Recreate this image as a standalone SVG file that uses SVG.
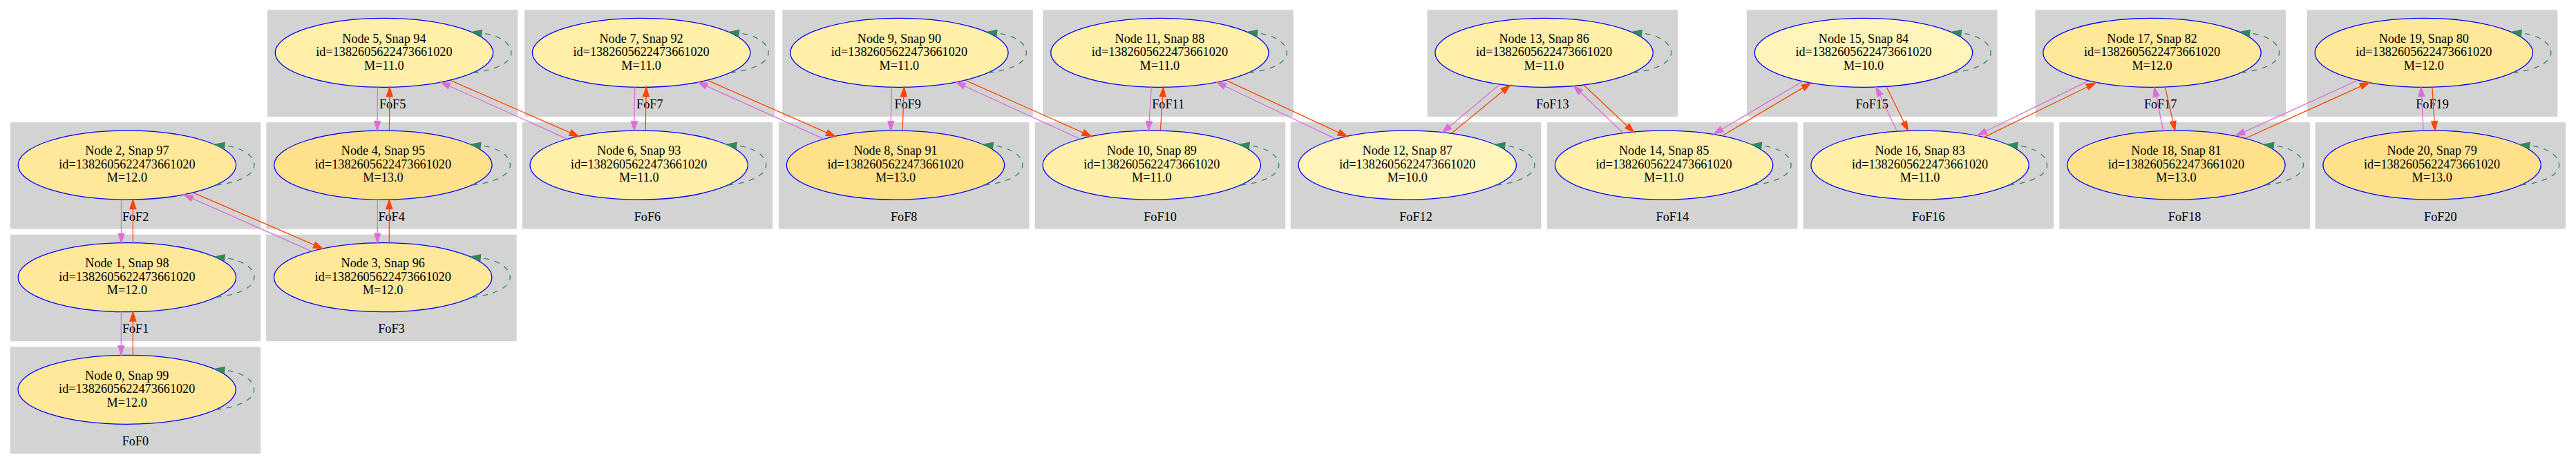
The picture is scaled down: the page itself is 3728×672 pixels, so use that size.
<svg xmlns="http://www.w3.org/2000/svg" width="3728" height="672" viewBox="0 0 3728 672">
<style>
.cl{fill:#d3d3d3;stroke:#d3d3d3;stroke-width:1.3}
text{font-family:"Liberation Serif","Times New Roman",serif;font-size:18.2px;text-anchor:middle;fill:#000}
.nd ellipse{stroke:#0000ff;stroke-width:1.3}
.m10{fill:#fff5bb}.m11{fill:#ffefa8}.m12{fill:#ffe899}.m13{fill:#ffe18c}
.or{stroke:#ff4500;stroke-width:1.3;fill:none;marker-end:url(#aor)}
.vi{stroke:#da70d6;stroke-width:1.3;fill:none;marker-end:url(#avi)}
</style>
<defs>
<marker id="aor" markerUnits="userSpaceOnUse" markerWidth="20" markerHeight="14" refX="13.5" refY="4.7" orient="auto" overflow="visible"><path d="M0,0.3L13.5,4.7L0,9.1Z" fill="#ff4500" stroke="#ff4500" stroke-width="1.3"/></marker>
<marker id="avi" markerUnits="userSpaceOnUse" markerWidth="20" markerHeight="14" refX="13.5" refY="4.7" orient="auto" overflow="visible"><path d="M0,0.3L13.5,4.7L0,9.1Z" fill="#da70d6" stroke="#da70d6" stroke-width="1.3"/></marker>
<marker id="alp" markerUnits="userSpaceOnUse" markerWidth="20" markerHeight="14" refX="0" refY="4.4" orient="auto" overflow="visible"><path d="M0,0L13.5,4.4L0,8.8Z" fill="#2e8b57" stroke="#2e8b57" stroke-width="1.3"/></marker>
<path id="loop" d="M128.7,29C160,25.5 184,15 184,0C184,-14 166,-25.5 141,-28.4" fill="none" stroke="#2e8b57" stroke-width="1.3" stroke-dasharray="7.8,7.8" marker-end="url(#alp)"/>
</defs>
<rect width="3728" height="672" fill="#ffffff"/>
<g id="clusters">
<g id="clust_FoF0"><rect class="cl" x="15.3" y="503" width="361.2" height="153.2"/><text x="195.9" y="644.8">FoF0</text>
<g id="node0" class="nd" transform="translate(183.7,564.3)"><ellipse class="m12" rx="157.7" ry="50"/><text y="-14.7">Node 0, Snap 99</text><text y="4.8">id=1382605622473661020</text><text y="24.4">M=12.0</text></g></g>
<g id="clust_FoF1"><rect class="cl" x="15.5" y="340.4" width="361.2" height="153.2"/><text x="196.1" y="482.2">FoF1</text>
<g id="node1" class="nd" transform="translate(183.9,401.7)"><ellipse class="m12" rx="157.7" ry="50"/><text y="-14.7">Node 1, Snap 98</text><text y="4.8">id=1382605622473661020</text><text y="24.4">M=12.0</text></g></g>
<g id="clust_FoF2"><rect class="cl" x="15.5" y="177.8" width="361.2" height="153.2"/><text x="196.1" y="319.6">FoF2</text>
<g id="node2" class="nd" transform="translate(183.9,239.1)"><ellipse class="m12" rx="157.7" ry="50"/><text y="-14.7">Node 2, Snap 97</text><text y="4.8">id=1382605622473661020</text><text y="24.4">M=12.0</text></g></g>
<g id="clust_FoF3"><rect class="cl" x="385.8" y="340.4" width="361.2" height="153.2"/><text x="566.4" y="482.2">FoF3</text>
<g id="node3" class="nd" transform="translate(554.2,401.7)"><ellipse class="m12" rx="157.7" ry="50"/><text y="-14.7">Node 3, Snap 96</text><text y="4.8">id=1382605622473661020</text><text y="24.4">M=12.0</text></g></g>
<g id="clust_FoF4"><rect class="cl" x="386" y="177.8" width="361.2" height="153.2"/><text x="566.6" y="319.6">FoF4</text>
<g id="node4" class="nd" transform="translate(554.4,239.1)"><ellipse class="m13" rx="157.7" ry="50"/><text y="-14.7">Node 4, Snap 95</text><text y="4.8">id=1382605622473661020</text><text y="24.4">M=13.0</text></g></g>
<g id="clust_FoF5"><rect class="cl" x="387.5" y="15" width="361.2" height="153.2"/><text x="568.1" y="156.8">FoF5</text>
<g id="node5" class="nd" transform="translate(555.9,76.3)"><ellipse class="m11" rx="157.7" ry="50"/><text y="-14.7">Node 5, Snap 94</text><text y="4.8">id=1382605622473661020</text><text y="24.4">M=11.0</text></g></g>
<g id="clust_FoF6"><rect class="cl" x="756.3" y="177.8" width="361.2" height="153.2"/><text x="936.9" y="319.6">FoF6</text>
<g id="node6" class="nd" transform="translate(924.7,239.1)"><ellipse class="m11" rx="157.7" ry="50"/><text y="-14.7">Node 6, Snap 93</text><text y="4.8">id=1382605622473661020</text><text y="24.4">M=11.0</text></g></g>
<g id="clust_FoF7"><rect class="cl" x="759.7" y="15" width="361.2" height="153.2"/><text x="940.3" y="156.8">FoF7</text>
<g id="node7" class="nd" transform="translate(928.1,76.3)"><ellipse class="m11" rx="157.7" ry="50"/><text y="-14.7">Node 7, Snap 92</text><text y="4.8">id=1382605622473661020</text><text y="24.4">M=11.0</text></g></g>
<g id="clust_FoF8"><rect class="cl" x="1127.6" y="177.8" width="361.2" height="153.2"/><text x="1308.2" y="319.6">FoF8</text>
<g id="node8" class="nd" transform="translate(1296,239.1)"><ellipse class="m13" rx="157.7" ry="50"/><text y="-14.7">Node 8, Snap 91</text><text y="4.8">id=1382605622473661020</text><text y="24.4">M=13.0</text></g></g>
<g id="clust_FoF9"><rect class="cl" x="1133" y="15" width="361.2" height="153.2"/><text x="1313.6" y="156.8">FoF9</text>
<g id="node9" class="nd" transform="translate(1301.4,76.3)"><ellipse class="m11" rx="157.7" ry="50"/><text y="-14.7">Node 9, Snap 90</text><text y="4.8">id=1382605622473661020</text><text y="24.4">M=11.0</text></g></g>
<g id="clust_FoF10"><rect class="cl" x="1498.4" y="177.8" width="361.2" height="153.2"/><text x="1679" y="319.6">FoF10</text>
<g id="node10" class="nd" transform="translate(1666.8,239.1)"><ellipse class="m11" rx="157.7" ry="50"/><text y="-14.7">Node 10, Snap 89</text><text y="4.8">id=1382605622473661020</text><text y="24.4">M=11.0</text></g></g>
<g id="clust_FoF11"><rect class="cl" x="1510" y="15" width="361.2" height="153.2"/><text x="1690.6" y="156.8">FoF11</text>
<g id="node11" class="nd" transform="translate(1678.4,76.3)"><ellipse class="m11" rx="157.7" ry="50"/><text y="-14.7">Node 11, Snap 88</text><text y="4.8">id=1382605622473661020</text><text y="24.4">M=11.0</text></g></g>
<g id="clust_FoF12"><rect class="cl" x="1868.4" y="177.8" width="361.2" height="153.2"/><text x="2049" y="319.6">FoF12</text>
<g id="node12" class="nd" transform="translate(2036.8,239.1)"><ellipse class="m10" rx="157.7" ry="50"/><text y="-14.7">Node 12, Snap 87</text><text y="4.8">id=1382605622473661020</text><text y="24.4">M=10.0</text></g></g>
<g id="clust_FoF13"><rect class="cl" x="2066.2" y="15" width="361.2" height="153.2"/><text x="2246.8" y="156.8">FoF13</text>
<g id="node13" class="nd" transform="translate(2234.6,76.3)"><ellipse class="m11" rx="157.7" ry="50"/><text y="-14.7">Node 13, Snap 86</text><text y="4.8">id=1382605622473661020</text><text y="24.4">M=11.0</text></g></g>
<g id="clust_FoF14"><rect class="cl" x="2239.7" y="177.8" width="361.2" height="153.2"/><text x="2420.3" y="319.6">FoF14</text>
<g id="node14" class="nd" transform="translate(2408.1,239.1)"><ellipse class="m11" rx="157.7" ry="50"/><text y="-14.7">Node 14, Snap 85</text><text y="4.8">id=1382605622473661020</text><text y="24.4">M=11.0</text></g></g>
<g id="clust_FoF15"><rect class="cl" x="2528.6" y="15" width="361.2" height="153.2"/><text x="2709.2" y="156.8">FoF15</text>
<g id="node15" class="nd" transform="translate(2697,76.3)"><ellipse class="m10" rx="157.7" ry="50"/><text y="-14.7">Node 15, Snap 84</text><text y="4.8">id=1382605622473661020</text><text y="24.4">M=10.0</text></g></g>
<g id="clust_FoF16"><rect class="cl" x="2610.2" y="177.8" width="361.2" height="153.2"/><text x="2790.8" y="319.6">FoF16</text>
<g id="node16" class="nd" transform="translate(2778.6,239.1)"><ellipse class="m11" rx="157.7" ry="50"/><text y="-14.7">Node 16, Snap 83</text><text y="4.8">id=1382605622473661020</text><text y="24.4">M=11.0</text></g></g>
<g id="clust_FoF17"><rect class="cl" x="2946.1" y="15" width="361.2" height="153.2"/><text x="3126.7" y="156.8">FoF17</text>
<g id="node17" class="nd" transform="translate(3114.5,76.3)"><ellipse class="m12" rx="157.7" ry="50"/><text y="-14.7">Node 17, Snap 82</text><text y="4.8">id=1382605622473661020</text><text y="24.4">M=12.0</text></g></g>
<g id="clust_FoF18"><rect class="cl" x="2981" y="177.8" width="361.2" height="153.2"/><text x="3161.6" y="319.6">FoF18</text>
<g id="node18" class="nd" transform="translate(3149.4,239.1)"><ellipse class="m13" rx="157.7" ry="50"/><text y="-14.7">Node 18, Snap 81</text><text y="4.8">id=1382605622473661020</text><text y="24.4">M=13.0</text></g></g>
<g id="clust_FoF19"><rect class="cl" x="3339.4" y="15" width="361.2" height="153.2"/><text x="3520" y="156.8">FoF19</text>
<g id="node19" class="nd" transform="translate(3507.8,76.3)"><ellipse class="m12" rx="157.7" ry="50"/><text y="-14.7">Node 19, Snap 80</text><text y="4.8">id=1382605622473661020</text><text y="24.4">M=12.0</text></g></g>
<g id="clust_FoF20"><rect class="cl" x="3351.2" y="177.8" width="361.2" height="153.2"/><text x="3531.8" y="319.6">FoF20</text>
<g id="node20" class="nd" transform="translate(3519.6,239.1)"><ellipse class="m13" rx="157.7" ry="50"/><text y="-14.7">Node 20, Snap 79</text><text y="4.8">id=1382605622473661020</text><text y="24.4">M=13.0</text></g></g>
</g>
<g id="connectors">
<use href="#loop" x="183.7" y="564.3"/>
<use href="#loop" x="183.9" y="401.7"/>
<use href="#loop" x="183.9" y="239.1"/>
<use href="#loop" x="554.2" y="401.7"/>
<use href="#loop" x="554.4" y="239.1"/>
<use href="#loop" x="555.9" y="76.3"/>
<use href="#loop" x="924.7" y="239.1"/>
<use href="#loop" x="928.1" y="76.3"/>
<use href="#loop" x="1296" y="239.1"/>
<use href="#loop" x="1301.4" y="76.3"/>
<use href="#loop" x="1666.8" y="239.1"/>
<use href="#loop" x="1678.4" y="76.3"/>
<use href="#loop" x="2036.8" y="239.1"/>
<use href="#loop" x="2234.6" y="76.3"/>
<use href="#loop" x="2408.1" y="239.1"/>
<use href="#loop" x="2697" y="76.3"/>
<use href="#loop" x="2778.6" y="239.1"/>
<use href="#loop" x="3114.5" y="76.3"/>
<use href="#loop" x="3149.4" y="239.1"/>
<use href="#loop" x="3507.8" y="76.3"/>
<use href="#loop" x="3519.6" y="239.1"/>
<path class="or" d="M192.4,514.4L192.4,451.6"/>
<path class="or" d="M192.4,351.8L192.4,289"/>
<path class="or" d="M279.9,279.1L467.2,360.2"/>
<path class="or" d="M563.3,351.9L563.3,289"/>
<path class="or" d="M563.4,189.3L563.9,126.2"/>
<path class="or" d="M651.9,116.3L837.7,197.6"/>
<path class="or" d="M934.2,189.3L935.2,126.2"/>
<path class="or" d="M1024.1,116.3L1209,197.6"/>
<path class="or" d="M1306,189.3L1308.4,126.2"/>
<path class="or" d="M1397.4,116.3L1579.8,197.6"/>
<path class="or" d="M1679.3,189.3L1683.6,126.2"/>
<path class="or" d="M1774.4,116.3L1949.8,197.6"/>
<path class="or" d="M2101.1,192.7L2185.4,123.3"/>
<path class="or" d="M2292.1,123.3L2364.8,191.7"/>
<path class="or" d="M2492.3,196.7L2621,120.1"/>
<path class="or" d="M2729.9,125.2L2761.4,189.4"/>
<path class="or" d="M2871.5,198.7L3032.9,120"/>
<path class="or" d="M3133.2,125.6L3147.7,189.2"/>
<path class="or" d="M3250.5,200L3429,119.3"/>
<path class="or" d="M3519.9,126L3523.9,189.2"/>
<path class="vi" d="M175.3,451.6L175.3,514.4"/>
<path class="vi" d="M175.5,289L175.5,351.8"/>
<path class="vi" d="M450.2,363.7L265.9,281.8"/>
<path class="vi" d="M546.3,289L546.3,351.9"/>
<path class="vi" d="M546.4,126.2L546,189.3"/>
<path class="vi" d="M820.7,201.1L637.9,119"/>
<path class="vi" d="M918.7,126.2L917.7,189.3"/>
<path class="vi" d="M1192,201.1L1010.1,119"/>
<path class="vi" d="M1290.5,126.2L1289,189.3"/>
<path class="vi" d="M1562.8,201.1L1383.4,119"/>
<path class="vi" d="M1666.2,126.2L1662.3,189.3"/>
<path class="vi" d="M1932.8,201.1L1760.4,119"/>
<path class="vi" d="M2169.9,122.7L2087.5,191.7"/>
<path class="vi" d="M2349.3,192.7L2277.5,124.4"/>
<path class="vi" d="M2609,117.8L2480.2,194"/>
<path class="vi" d="M2745.4,190.2L2714.9,126"/>
<path class="vi" d="M3021.7,117.3L2861.8,196"/>
<path class="vi" d="M3130.8,189.8L3117.7,126.2"/>
<path class="vi" d="M3411.4,116.7L3235.4,196.7"/>
<path class="vi" d="M3507.1,189.2L3503.7,126.2"/>
</g>
</svg>
